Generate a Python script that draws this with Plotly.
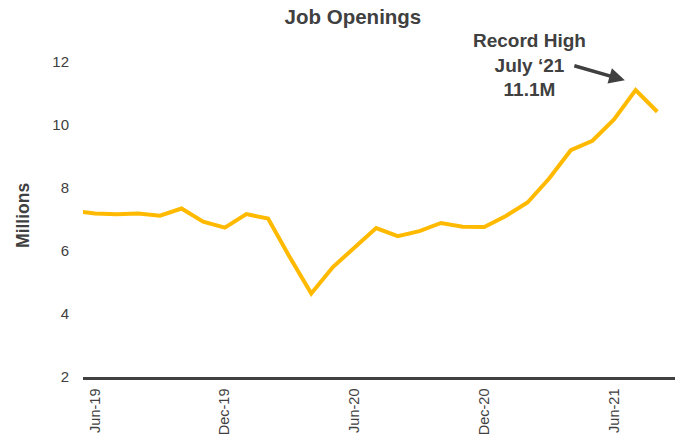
import plotly.graph_objects as go

months = ["May-19", "Jun-19", "Jul-19", "Aug-19", "Sep-19", "Oct-19", "Nov-19", "Dec-19",
          "Jan-20", "Feb-20", "Mar-20", "Apr-20", "May-20", "Jun-20", "Jul-20", "Aug-20",
          "Sep-20", "Oct-20", "Nov-20", "Dec-20", "Jan-21", "Feb-21", "Mar-21", "Apr-21",
          "May-21", "Jun-21", "Jul-21", "Aug-21"]
openings = [7.28, 7.19, 7.17, 7.19, 7.12, 7.35, 6.93, 6.74,
            7.17, 7.03, 5.81, 4.65, 5.49, 6.13, 6.73, 6.47,
            6.63, 6.89, 6.77, 6.76, 7.11, 7.54, 8.30, 9.20,
            9.50, 10.18, 11.11, 10.42]
x_ticks = ["Jun-19", "Dec-19", "Jun-20", "Dec-20", "Jun-21"]
y_ticks = [2, 4, 6, 8, 10, 12]

TEXT = "#404040"
FONT = "Liberation Sans, Arial, sans-serif"

fig = go.Figure()
fig.add_trace(go.Scatter(
    x=months, y=openings, mode="lines",
    line=dict(color="#FFBA00", width=4),
    hoverinfo="skip", showlegend=False,
))

fig.update_layout(
    width=675, height=443,
    margin=dict(l=83, r=0, t=62, b=66, autoexpand=False),
    paper_bgcolor="white", plot_bgcolor="white",
    font=dict(family=FONT, color=TEXT),
    title=dict(text="<b>Job Openings</b>", x=0.456, xref="paper", xanchor="center",
               y=0.962, yref="container", yanchor="middle",
               font=dict(size=20.5, color=TEXT, family=FONT)),
    xaxis=dict(type="category", range=[0.443, 27.82], tickmode="array", tickvals=x_ticks,
               ticktext=x_ticks, tickangle=-90, showgrid=False, zeroline=False,
               showline=True, linecolor=TEXT, linewidth=2.5, ticks="",
               ticklabelstandoff=3, tickfont=dict(size=14.5, color=TEXT), automargin=False),
    yaxis=dict(range=[2, 12], tickvals=y_ticks, showgrid=False, zeroline=False,
               showline=False, ticks="", ticklabelstandoff=13,
               tickfont=dict(size=15, color=TEXT), automargin=False),
)

fig.add_annotation(
    x=-0.101, y=0.512, xref="paper", yref="paper",
    text="<b>Millions</b>", textangle=-90, showarrow=False,
    xanchor="center", yanchor="middle",
    font=dict(size=17.5, color=TEXT, family=FONT),
)
fig.add_annotation(
    x=21.1, y=11.9, xref="x", yref="y",
    text="<b>Record High<br>July \u201821<br>11.1M</b>",
    showarrow=False, xanchor="center", yanchor="middle", align="center",
    font=dict(size=19, color=TEXT, family=FONT),
)
fig.add_annotation(
    x=25.5, y=11.42, xref="x", yref="y", text="",
    showarrow=True, ax=-52, ay=-15, arrowhead=2, arrowsize=0.9,
    arrowwidth=3.5, arrowcolor=TEXT,
)

fig.write_html("out.html", config={"displayModeBar": False},
               post_script="document.body.style.margin='0';document.body.style.padding='0';")
